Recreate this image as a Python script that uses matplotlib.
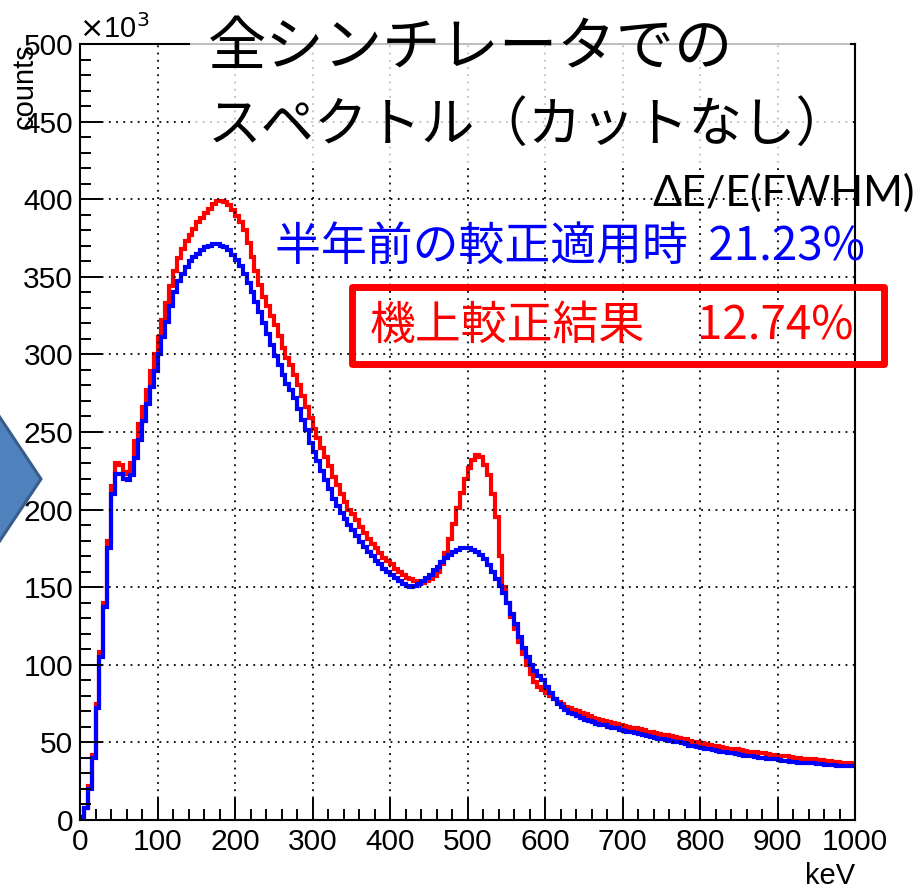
import matplotlib
matplotlib.use("Agg")
import matplotlib.pyplot as plt
import numpy as np
from matplotlib.patches import Polygon, Rectangle

# energy binning (keV) and spectra in units of 10^3 counts
bin_width = 5
e_max = 1000

# 機上較正結果 (red)
onboard = [
	2, 8, 22, 42, 75, 108, 140, 180, 215, 230,
	229, 224, 223, 230, 244, 255, 266, 277, 289, 300,
	311, 322, 333, 344, 354, 362, 368, 373, 377, 381,
	385, 388, 391, 394, 397, 399, 399, 398, 396, 393,
	389, 385, 380, 372, 363, 354, 345, 337, 331, 325,
	319, 312, 304, 298, 293, 287, 280, 273, 266, 259,
	252, 246, 240, 234, 228, 221, 216, 210, 205, 200,
	197, 193, 189, 185, 181, 178, 175, 172, 169, 167,
	165, 162, 160, 158, 156, 155, 154, 153, 153, 154,
	155, 157, 160, 165, 172, 181, 191, 201, 211, 220,
	227, 232, 235, 234, 229, 222, 210, 195, 170, 150,
	140, 131, 123, 115, 107, 100, 94, 89, 86, 84,
	82, 80, 78, 76, 75, 73, 72, 71, 70, 69,
	68, 67, 66, 65, 64.5, 64, 63, 62.5, 62, 61,
	60.5, 60, 59.5, 59, 58.5, 58, 57, 56.5, 56, 55.5,
	55, 54.5, 54, 53.5, 53, 52.5, 52, 51, 50.5, 50,
	49.5, 49, 48.5, 48, 47.5, 47, 46.5, 46, 46, 45.5,
	45, 44.5, 44, 44, 43.5, 43, 43, 42.5, 42, 42,
	41.5, 41, 41, 40.5, 40, 40, 39.5, 39.5, 39, 39,
	38.5, 38.5, 38, 38, 37.5, 37.5, 37, 37, 36.5, 36.5,
]

# 半年前の較正適用時 (blue)
old_calib = [
	2, 8, 20, 40, 72, 105, 137, 175, 210, 223,
	223, 220, 219, 222, 233, 245, 257, 268, 279, 289,
	300, 311, 321, 331, 340, 347, 352, 356, 360, 363,
	365, 367, 369, 370, 371, 371, 370, 369, 367, 364,
	361, 357, 352, 346, 340, 334, 327, 320, 313, 306,
	299, 293, 287, 281, 277, 272, 265, 258, 251, 243,
	237, 231, 225, 219, 213, 207, 202, 198, 194, 190,
	187, 183, 179, 176, 173, 170, 167, 165, 162, 160,
	158, 156, 154, 152, 151, 150, 151, 152, 154, 156,
	158, 161, 163, 166, 169, 171, 173, 174, 175, 175,
	175, 174, 173, 171, 168, 164, 160, 155, 151, 146,
	140, 133, 126, 118, 111, 105, 100, 96, 93, 90,
	86, 82, 78, 75, 73, 71, 69, 68, 67, 66,
	64.5, 63.5, 63, 62, 61.5, 61, 60, 59.5, 59, 58,
	57.5, 57, 56.5, 56, 55.5, 55, 54, 53.5, 53, 52.5,
	52, 51.5, 51, 50.5, 50, 49.5, 49, 48, 47.5, 47,
	46.5, 46, 45.5, 45, 44.5, 44, 43.5, 43, 43, 42.5,
	42, 41.5, 41, 41, 40.5, 40, 40, 39.5, 39, 39,
	38.5, 38, 38, 37.5, 37.5, 37, 37, 36.5, 36.5, 36.5,
	36, 36, 35.5, 35.5, 35.5, 35, 35, 35, 34.5, 34.5,
]

title_lines = ["全シンチレータでの", "スペクトル（カットなし）"]
res_header = "ΔE/E(FWHM)"
old_label, old_res = "半年前の較正適用時", "21.23%"
new_label, new_res = "機上較正結果", "12.74%"

W, H = 922, 889
JP = ["Noto Sans CJK JP", "DejaVu Sans"]
plt.rcParams["font.family"] = ["Liberation Sans", "DejaVu Sans"]


def fx(x):
	return x / W


def fy(y):
	return 1 - y / H


fig = plt.figure(figsize=(W / 100, H / 100), dpi=100)
ax = fig.add_axes([fx(80), fy(820), (855 - 80) / W, (820 - 44) / H])

edges = np.arange(0, e_max + bin_width, bin_width)
ax.stairs(onboard, edges, baseline=None, color="#ff0000", lw=3)
ax.stairs(old_calib, edges, baseline=None, color="#0000ff", lw=3)

ax.set_xlim(0, 1000)
ax.set_ylim(0, 500)
ax.set_xticks(np.arange(0, 1001, 100))
ax.set_xticks(np.arange(0, 1001, 20), minor=True)
ax.set_yticks(np.arange(0, 501, 50))
ax.set_yticks(np.arange(0, 501, 10), minor=True)
ax.tick_params(which="major", direction="in", length=16, width=1.4, labelsize=21.5, pad=6)
ax.tick_params(which="minor", direction="in", length=8, width=1.4)
ax.tick_params(axis="y", pad=5)
ax.grid(True, which="major", color="black", linestyle=(0, (1, 3)), linewidth=1.3)
for s in ax.spines.values():
	s.set_linewidth(1.5)

fig.text(fx(79), fy(38), r"$\times$10$^3$", fontsize=21, ha="left", va="baseline")
fig.text(fx(25), fy(43), "counts", fontsize=21, rotation=90, ha="center", va="top")
fig.text(fx(855), fy(876), "keV", fontsize=21, ha="right", va="center")

# translucent title box
fig.patches.append(Rectangle((fx(190), fy(165)), fx(850) - fx(190), fy(0) - fy(165),
	transform=fig.transFigure, facecolor="white", alpha=0.75, edgecolor="none", zorder=2))
fig.text(fx(208), fy(48), title_lines[0], fontsize=42, family=JP, ha="left", va="center")
fig.text(fx(208), fy(125), title_lines[1], fontsize=38.5, family=JP, ha="left", va="center")

fig.text(fx(915), fy(193), res_header, fontsize=31, ha="right", va="center",
	family=["Lato", "DejaVu Sans"])
fig.text(fx(275), fy(247), old_label + "  " + old_res, fontsize=33, family=JP, color="#0000ff",
	ha="left", va="center")

fig.patches.append(Rectangle((fx(352), fy(364)), fx(884) - fx(352), fy(287) - fy(364),
	transform=fig.transFigure, facecolor="none", edgecolor="#ff0000", lw=5,
	joinstyle="round", zorder=3))
fig.text(fx(370), fy(326), new_label, fontsize=33, family=JP, color="#ff0000", ha="left", va="center")
fig.text(fx(853), fy(326), new_res, fontsize=33, family=JP, color="#ff0000", ha="right", va="center")

# arrow shape at the left edge
fig.patches.append(Polygon([(fx(-5), fy(410)), (fx(41), fy(479)), (fx(-5), fy(548))],
	closed=True, transform=fig.transFigure, facecolor="#4f81bd", edgecolor="#385d8a",
	lw=2.2, zorder=3))

fig.savefig("out.png", dpi=100)
